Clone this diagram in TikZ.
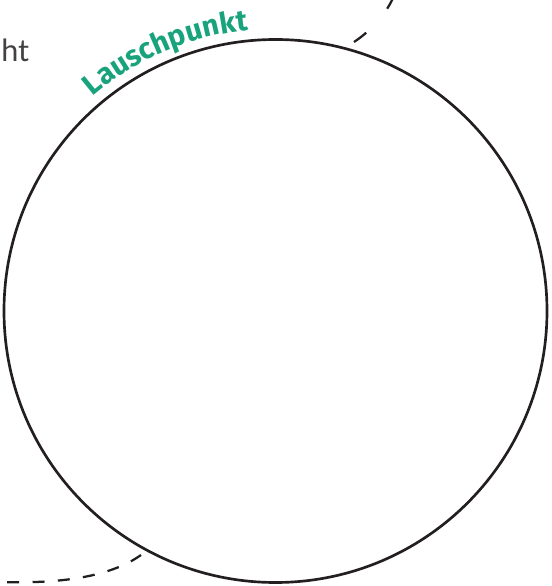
\documentclass[tikz,border=0pt]{standalone}
\usepackage{fontspec}
\setmainfont{Lato}
\newfontfamily\handfont{Fira Sans}
\usepackage{xcolor}
\usetikzlibrary{decorations.text}
\definecolor{lauschgreen}{RGB}{24,163,124}
\definecolor{inkdark}{RGB}{35,31,32}

\begin{document}
\begin{tikzpicture}[
  x=0.75pt, y=0.75pt,
  ring/.style={draw=inkdark, line width=2pt},
  orbit/.style={draw=inkdark, line width=1.7pt},
  cutlabel/.style={font=\fontsize{23}{28}\selectfont, text=inkdark!85, inner sep=0pt},
]
\useasboundingbox (0,0) rectangle (551,586);

% Main circle
\coordinate (centre) at (275.5,275);
\draw[ring] (centre) circle[radius=271.5];

% Dashed orbit pieces
\draw[orbit, dash pattern=on 11.5pt off 24pt] (354,544) .. controls (372,556) and (386,572) .. (394,590);
\draw[orbit, dash pattern=on 9pt off 10pt] (141,31) .. controls (110,9) and (60,2) .. (-2,4);

% Labels
\node[cutlabel, anchor=base west] (sichtlabel) at (1,524) {ht};
\path[decorate, decoration={text along path, text align=center,
  text={|\handfont\bfseries\fontsize{22}{26}\selectfont\color{lauschgreen}|Lauschpunkt}}]
  (centre) ++(131:282) arc[start angle=131, end angle=95, radius=282];
\end{tikzpicture}
\end{document}
